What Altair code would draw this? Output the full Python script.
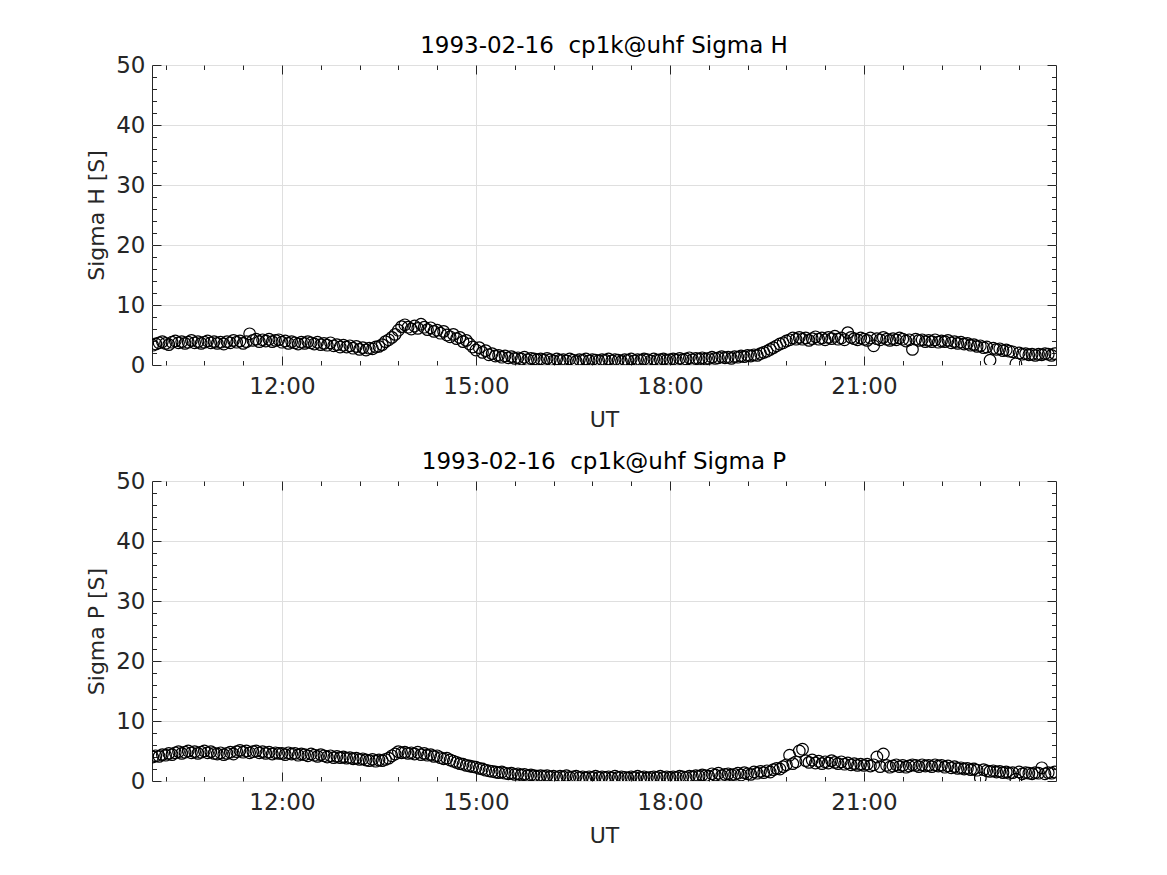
import altair as alt
import pandas as pd

# 3-minute samples from 10:00 to 23:57 UT (20 per hour)
sigma_h = [
    3.3, 3.5, 3.7, 3.9, 3.6, 3.4, 3.8, 4.0, 3.7, 3.9, 3.6, 3.8, 4.1, 3.7, 3.9, 3.6, 3.8, 4.0, 3.7, 3.9,
    3.6, 3.8, 3.5, 3.9, 3.7, 4.1, 3.8, 4.0, 3.6, 3.9, 5.2, 4.1, 4.3, 3.9, 4.2, 4.0, 4.3, 3.9, 4.1, 4.2,
    3.8, 4.0, 3.6, 3.9, 3.7, 3.5, 3.8, 3.6, 3.9, 3.7, 3.5, 3.8, 3.4, 3.6, 3.3, 3.7, 3.2, 3.4, 3.0, 3.3,
    3.0, 3.2, 2.8, 3.1, 2.6, 2.9, 2.5, 2.8, 2.7, 3.0, 3.1, 3.4, 3.9, 4.2, 4.6, 5.1, 5.8, 6.4, 6.7, 6.3,
    6.0, 6.5, 6.1, 6.8, 6.3, 5.9, 6.2, 5.6, 5.8, 5.3, 5.6, 5.0, 4.7, 5.1, 4.4, 4.6, 3.9, 4.1, 3.5, 3.0,
    2.5, 2.9, 2.1, 2.4, 1.7, 1.9, 1.5, 1.6, 1.3, 1.5, 1.2, 1.4, 1.1, 1.2, 1.0, 1.3, 0.9, 1.1, 1.0, 0.9,
    1.0, 0.8, 1.1, 0.9, 0.7, 1.0, 0.8, 0.9, 0.7, 1.0, 0.8, 0.6, 0.9, 0.8, 1.0, 0.7, 0.9, 0.8, 0.7, 0.9,
    0.8, 1.0, 0.7, 0.9, 0.8, 0.6, 0.9, 0.8, 1.0, 0.7, 0.9, 0.8, 1.0, 0.9, 0.7, 1.0, 0.8, 0.9, 1.0, 0.8,
    0.9, 1.0, 0.8, 1.1, 0.9, 1.0, 1.2, 0.9, 1.1, 1.0, 1.2, 1.0, 1.1, 1.3, 1.1, 1.2, 1.4, 1.2, 1.3, 1.1,
    1.4, 1.3, 1.5, 1.4, 1.6, 1.5, 1.7, 1.6, 1.9, 2.1, 2.3, 2.6, 2.9, 3.2, 3.5, 3.7, 4.0, 4.2, 4.5, 4.3,
    4.6, 4.3, 4.5, 4.1, 4.4, 4.7, 4.3, 4.5, 4.2, 4.6, 4.4, 4.8, 4.3, 4.5, 4.2, 5.4, 4.6, 4.4, 4.2, 4.5,
    4.3, 4.1, 4.5, 3.2, 4.4, 4.2, 4.6, 4.3, 4.1, 4.4, 4.2, 4.5, 4.3, 4.0, 4.2, 2.6, 4.3, 4.1, 4.2, 3.9,
    4.1, 3.9, 4.2, 3.8, 4.0, 3.9, 4.1, 3.7, 3.9, 3.6, 3.8, 3.5, 3.6, 3.3, 3.4, 3.1, 3.2, 2.9, 3.0, 0.8,
    2.8, 2.6, 2.7, 2.4, 2.5, 2.3, 2.2, 0.2, 2.0, 1.8, 1.9, 1.7, 1.8, 1.6, 1.8, 1.7, 1.9, 1.8, 1.6, 1.9,
]

sigma_p = [
    4.0, 4.2, 4.1, 4.4, 4.3, 4.6, 4.4, 4.7, 4.9, 4.6, 4.8, 5.0, 4.7, 4.9, 4.6, 4.8, 5.0, 4.7, 4.9, 4.6,
    4.5, 4.7, 4.4, 4.6, 4.8, 4.5, 4.9, 5.1, 4.8, 5.0, 4.7, 4.9, 5.0, 4.7, 4.9, 4.6, 4.8, 4.5, 4.7, 4.6,
    4.6, 4.4, 4.7, 4.5, 4.6, 4.3, 4.5, 4.4, 4.2, 4.5, 4.3, 4.1, 4.4, 4.2, 4.0, 4.2, 3.9, 4.1, 3.9, 4.0,
    3.8, 3.9, 3.7, 3.8, 3.6, 3.7, 3.5, 3.4, 3.6, 3.3, 3.5, 3.4, 3.6, 3.8, 4.2, 4.5, 4.9, 4.7, 4.8, 4.6,
    4.7, 4.5, 4.8, 4.4, 4.6, 4.3, 4.4, 4.1, 4.2, 3.9, 3.7, 3.8, 3.5, 3.3, 3.1, 2.9, 2.8, 2.6, 2.5, 2.4,
    2.3, 2.1, 2.0, 1.8, 1.7, 1.6, 1.5, 1.4, 1.5, 1.3, 1.2, 1.3, 1.1, 1.2, 1.0, 1.1, 0.9, 1.0, 0.9, 0.8,
    0.9, 0.8, 0.9, 0.7, 0.8, 0.6, 0.8, 0.7, 0.9, 0.6, 0.7, 0.8, 0.6, 0.7, 0.5, 0.7, 0.6, 0.8, 0.6, 0.7,
    0.6, 0.7, 0.5, 0.8, 0.6, 0.7, 0.6, 0.5, 0.7, 0.6, 0.8, 0.6, 0.7, 0.5, 0.6, 0.7, 0.6, 0.8, 0.6, 0.7,
    0.6, 0.7, 0.6, 0.8, 0.7, 0.6, 0.8, 0.7, 0.9, 0.8, 1.0, 0.9, 0.8, 1.2, 1.0, 1.3, 0.9, 1.1, 1.2, 1.0,
    1.1, 1.3, 1.0, 1.4, 1.2, 1.1, 1.5, 1.3, 1.6, 1.4, 1.7, 1.5, 1.9, 2.1, 2.0, 2.4, 2.7, 4.3, 2.9, 3.2,
    5.0, 5.3, 3.4, 3.1, 3.5, 3.0, 3.3, 2.9, 3.2, 3.0, 3.4, 3.1, 2.9, 3.2, 2.8, 3.0, 2.7, 2.9, 2.6, 2.8,
    2.6, 2.8, 2.5, 2.7, 4.0, 2.4, 4.5, 2.6, 2.3, 2.5, 2.7, 2.4, 2.6, 2.3, 2.5, 2.7, 2.6, 2.4, 2.7, 2.5,
    2.6, 2.4, 2.7, 2.5, 2.6, 2.3, 2.5, 2.2, 2.4, 2.1, 2.2, 2.0, 2.1, 1.9, 2.0, 1.8, 0.5, 1.9, 1.7, 1.6,
    1.7, 1.5, 1.6, 1.4, 1.5, 1.3, 1.4, 0.3, 1.5, 1.2, 1.4, 1.3, 1.2, 1.4, 1.3, 2.2, 1.2, 1.4, 1.3, 1.5,
]

hours = [10 + i / 20 for i in range(len(sigma_h))]

x_major = [12, 15, 18, 21]
x_minor = [10.2, 10.8, 11.4, 12.6, 13.2, 13.8, 14.4, 15.6, 16.2, 16.8,
           17.4, 18.6, 19.2, 19.8, 20.4, 21.6, 22.2, 22.8, 23.4]
y_major = [0, 10, 20, 30, 40, 50]
y_minor = [2, 4, 6, 8, 12, 14, 16, 18, 22, 24, 26, 28, 32, 34, 36, 38,
           42, 44, 46, 48]

AX = "#262626"
GRID = "#dfdfdf"
FONT = "DejaVu Sans"


def panel(values, title, ytitle):
    df = pd.DataFrame({"t": hours, "v": values})
    xs = alt.Scale(domain=[9.99, 23.97], nice=False, zero=False)
    ys = alt.Scale(domain=[0, 50], nice=False, zero=False)
    base = alt.Chart(df)
    pts = base.mark_point(shape="circle", size=135, filled=False, color="black",
                          strokeWidth=1.2, opacity=1, clip=True).encode(
        x=alt.X("t:Q", scale=xs, axis=alt.Axis(
            orient="bottom", values=x_major, labelExpr="datum.value + ':00'",
            grid=True, gridColor=GRID, tickSize=0, domain=False, ticks=False,
            title="UT", labelPadding=10, titlePadding=11)),
        y=alt.Y("v:Q", scale=ys, axis=alt.Axis(
            orient="left", values=y_major, grid=True, gridColor=GRID,
            tickSize=0, ticks=False, domain=False, title=ytitle,
            labelPadding=7, titlePadding=7)),
    )

    def ticks(xo, yo, xv, yv, size):
        return base.mark_point(opacity=0).encode(
            x=alt.X("t:Q", scale=xs, axis=alt.Axis(
                orient=xo, values=xv, labels=False, domain=False, grid=False,
                ticks=True, tickSize=size, offset=-size, tickColor=AX,
                tickWidth=1, minExtent=0, title=None)),
            y=alt.Y("v:Q", scale=ys, axis=alt.Axis(
                orient=yo, values=yv, labels=False, domain=False, grid=False,
                ticks=True, tickSize=size, offset=-size, tickColor=AX,
                tickWidth=1, minExtent=0, title=None)),
        )

    layers = [
        pts,
        ticks("bottom", "left", x_major, y_major, 9),
        ticks("bottom", "left", x_minor, y_minor, 4.5),
        ticks("top", "right", x_major, y_major, 9),
        ticks("top", "right", x_minor, y_minor, 4.5),
    ]
    return alt.layer(*layers).resolve_axis(x="independent", y="independent").properties(
        width=904, height=300,
        title=alt.Title(title, fontSize=23, font=FONT, fontWeight="normal",
                        color="black", offset=-4, anchor="middle"),
    )


top = panel(sigma_h, "1993-02-16\u00a0 cp1k@uhf Sigma H", "Sigma H [S]")
bottom = panel(sigma_p, "1993-02-16\u00a0 cp1k@uhf Sigma P", "Sigma P [S]")

chart = alt.vconcat(top, bottom, spacing=19).properties(
    padding={"left": 77, "top": 26, "right": 10, "bottom": 10},
    background="white",
).configure_view(stroke=AX, strokeWidth=1).configure_axis(
    labelFont=FONT, labelFontSize=23, labelColor=AX,
    titleFont=FONT, titleFontSize=22, titleFontWeight="normal", titleColor=AX,
)

chart.save("out.html", embed_options={"renderer": "svg", "actions": False})
